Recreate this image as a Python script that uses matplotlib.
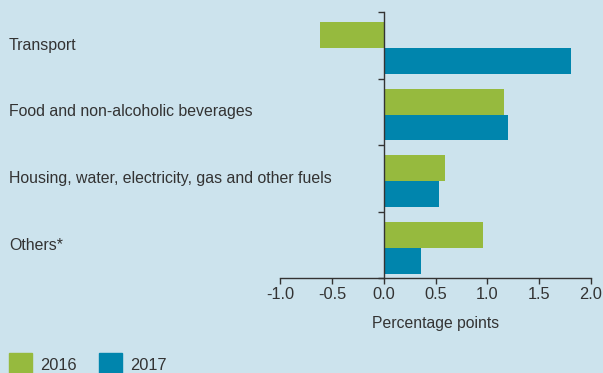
import numpy as np
import matplotlib
matplotlib.use("Agg")
import matplotlib.pyplot as plt
from matplotlib.patches import Rectangle

plt.rcParams["font.family"] = ["Liberation Sans", "DejaVu Sans"]

categories = ["Transport", "Food and non-alcoholic beverages",
              "Housing, water, electricity, gas and other fuels", "Others*"]
vals_2016 = [-0.62, 1.16, 0.59, 0.96]
vals_2017 = [1.81, 1.20, 0.53, 0.36]
series_labels = ["2016", "2017"]
xticks = [-1.0, -0.5, 0.0, 0.5, 1.0, 1.5, 2.0]

bg = "#cce3ed"
green = "#96ba3e"
blue = "#0085ad"
ink = "#333333"

fig = plt.figure(figsize=(6.03, 3.73), dpi=100, facecolor=bg)
ax = fig.add_axes([0.4648, 0.2539, 0.5152, 0.7139], facecolor=bg)

y = np.arange(len(categories))
h = 0.39
ax.barh(y + 0.345, vals_2016, height=h, color=green, edgecolor="none")
ax.barh(y + 0.735, vals_2017, height=h, color=blue, edgecolor="none")

ax.set_xlim(-1.0, 2.0)
ax.set_ylim(len(categories), 0)
ax.set_xticks(xticks)
ax.set_xticklabels([f"{t:.1f}" for t in xticks], fontsize=11.8, color=ink)
ax.set_yticks(np.arange(len(categories) + 1))
ax.set_yticklabels([])
ax.tick_params(axis="x", direction="out", length=4, width=1, color=ink, pad=2)
ax.tick_params(axis="y", direction="out", length=4, width=1, color=ink)

for s in ["top", "right"]:
    ax.spines[s].set_visible(False)
ax.spines["bottom"].set_color(ink)
ax.spines["left"].set_color(ink)
ax.spines["left"].set_position(("data", 0))
ax.spines["bottom"].set_linewidth(1)
ax.spines["left"].set_linewidth(1)

ax.set_xlabel("Percentage points", fontsize=11.3, color=ink, labelpad=10)

# category names sit at the left edge of the figure, centred on each band
for i, name in enumerate(categories):
    yy = ax.transData.transform((0, i + 0.5))[1]
    fig.text(9 / 603, yy / fig.dpi / fig.get_figheight(), name,
             fontsize=11.4, color=ink, ha="left", va="center")

# legend squares along the bottom
for x0, col, lab in [(9, green, series_labels[0]), (99, blue, series_labels[1])]:
    fig.patches.append(Rectangle((x0 / 603, 0), 23 / 603, 20 / 373,
                                 transform=fig.transFigure, color=col))
    fig.text((x0 + 31) / 603, 8 / 373, lab, fontsize=11.8, color=ink,
             ha="left", va="center")

fig.savefig("out.png", dpi=100, facecolor=bg)
